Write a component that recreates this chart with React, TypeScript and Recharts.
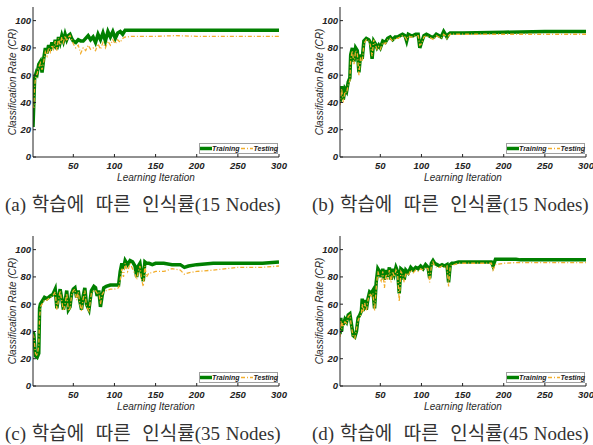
import { LineChart, Line, XAxis, YAxis, Legend } from "recharts";

const xTicks = [50, 100, 150, 200, 250, 300];
const yTicks = [0, 20, 40, 60, 80, 100];

// (a) 15 Nodes
const itersA = [1, 2, 3, 4, 5, 6, 8, 10, 12, 14, 16, 18, 20, 22, 24, 26, 28, 30, 32, 34, 36, 38, 40, 42, 44, 46, 48, 50, 53, 56, 59, 62, 65, 68, 71, 74, 77, 80, 83, 86, 89, 92, 95, 98, 101, 104, 107, 110, 113, 116, 120, 150, 175, 200, 250, 300];
const trainA = [22, 40, 58, 60, 62, 61, 68, 70, 62, 72, 80, 76, 82, 78, 84, 80, 86, 79, 88, 84, 89, 85, 90, 86, 89, 90, 87, 85, 84, 86, 85, 85, 87, 89, 86, 88, 84, 90, 86, 91, 85, 92, 88, 92, 87, 91, 92, 90, 93, 93, 93, 93, 93, 93, 93, 93];
const testA = [38, 36, 52, 58, 60, 61, 66, 69, 64, 70, 77, 74, 80, 77, 82, 79, 85, 78, 87, 82, 88, 84, 89, 85, 88, 89, 86, 83, 80, 82, 76, 80, 78, 82, 79, 80, 78, 83, 79, 84, 80, 85, 82, 86, 83, 86, 84, 87, 88, 88, 88.5, 88.5, 89, 88.5, 88.5, 88.5];

// (b) 15 Nodes
const itersB = [1, 3, 5, 7, 9, 11, 13, 14, 16, 18, 20, 22, 24, 26, 28, 30, 33, 36, 38, 40, 42, 44, 46, 48, 50, 53, 56, 59, 62, 65, 68, 71, 74, 77, 80, 82, 84, 87, 90, 93, 96, 98, 100, 103, 106, 109, 112, 115, 118, 121, 124, 127, 129, 131, 133, 135, 150, 200, 250, 300];
const trainB = [40, 52, 42, 50, 48, 55, 58, 75, 80, 70, 80, 78, 62, 75, 72, 85, 87, 86, 84, 72, 85, 83, 80, 82, 80, 85, 84, 87, 88, 86, 88, 88, 89, 90, 89, 85, 90, 89, 89, 90, 90, 80, 84, 89, 90, 89, 88, 88, 90, 89, 88, 92, 90, 88, 90, 91, 91, 91.5, 92, 92];
const testB = [38, 50, 40, 48, 47, 53, 56, 72, 78, 68, 78, 76, 60, 73, 70, 83, 86, 85, 82, 74, 86, 82, 79, 81, 79, 84, 83, 86, 87, 85, 87, 87, 88, 89, 88, 86, 89, 88, 88, 89, 89, 82, 83, 88, 89, 88, 87, 86, 89, 88, 87, 90, 89, 87, 89, 90, 90, 90, 90, 90];

// (c) 35 Nodes
const itersC = [1, 2, 4, 6, 8, 9, 10, 12, 15, 18, 22, 25, 28, 30, 32, 34, 36, 38, 40, 42, 44, 46, 48, 50, 52, 54, 56, 58, 60, 62, 64, 66, 69, 72, 75, 77, 79, 81, 83, 85, 87, 90, 95, 100, 105, 107, 109, 111, 113, 116, 119, 122, 125, 127, 129, 131, 133, 135, 137, 139, 142, 146, 150, 160, 170, 180, 185, 190, 200, 220, 250, 280, 300];
const trainC = [40, 38, 22, 21, 24, 57, 60, 62, 65, 64, 66, 67, 71, 57, 65, 71, 64, 56, 62, 70, 56, 58, 68, 71, 72, 65, 70, 62, 56, 66, 72, 60, 56, 70, 73, 72, 66, 70, 58, 66, 72, 73, 74, 74, 74, 84, 90, 86, 92, 89, 92, 91, 88, 80, 88, 90, 82, 77, 91, 90, 90, 89, 90, 90, 89, 89, 87, 88, 89, 90, 90, 90, 91];
const testC = [38, 36, 24, 22, 30, 50, 58, 60, 63, 63, 65, 66, 69, 56, 63, 70, 62, 55, 60, 68, 55, 57, 67, 70, 71, 63, 69, 60, 55, 64, 70, 58, 55, 68, 70, 70, 68, 69, 60, 67, 69, 70, 71, 71, 72, 78, 86, 80, 90, 84, 90, 86, 82, 78, 84, 88, 78, 73, 88, 80, 83, 83, 84, 84, 86, 85, 82, 83, 84, 85, 87, 87, 88];

// (d) 45 Nodes
const itersD = [1, 2, 3, 4, 5, 7, 9, 11, 13, 15, 17, 19, 21, 23, 25, 27, 28, 29, 31, 33, 35, 37, 39, 41, 43, 45, 47, 49, 51, 53, 55, 57, 59, 61, 63, 65, 67, 69, 71, 73, 75, 77, 79, 81, 84, 87, 90, 93, 96, 99, 102, 105, 108, 110, 112, 114, 116, 119, 122, 125, 128, 131, 133, 135, 137, 140, 145, 150, 160, 170, 180, 185, 187, 190, 200, 215, 220, 250, 300];
const trainD = [38, 50, 40, 48, 45, 49, 47, 52, 53, 45, 37, 36, 40, 50, 52, 55, 64, 55, 63, 56, 64, 69, 68, 70, 57, 76, 86, 84, 80, 86, 78, 85, 80, 87, 78, 86, 82, 87, 84, 68, 86, 85, 78, 85, 83, 87, 85, 87, 86, 88, 86, 89, 87, 79, 90, 92, 90, 89, 88, 89, 88, 89, 76, 89, 90, 90, 91, 91, 91, 91, 91, 91, 88, 93, 93, 93, 92.5, 92.5, 92.5];
const testD = [36, 48, 42, 46, 44, 47, 46, 51, 52, 43, 36, 35, 42, 48, 51, 53, 60, 54, 61, 55, 63, 68, 66, 68, 55, 72, 84, 80, 77, 84, 72, 82, 78, 85, 76, 84, 80, 85, 82, 62, 84, 82, 76, 83, 81, 85, 83, 85, 84, 86, 85, 87, 86, 76, 88, 91, 88, 87, 87, 88, 87, 88, 73, 88, 89, 89, 90, 90, 90, 90, 90, 90, 85, 89, 90, 90.5, 90.5, 90.5, 90.5];

const panels = [
  { iters: itersA, train: trainA, test: testA, caption: "(a) 학습에  따른  인식률(15 Nodes)", left: 0, top: 0 },
  { iters: itersB, train: trainB, test: testB, caption: "(b) 학습에  따른  인식률(15 Nodes)", left: 307, top: 0 },
  { iters: itersC, train: trainC, test: testC, caption: "(c) 학습에  따른  인식률(35 Nodes)", left: 0, top: 229 },
  { iters: itersD, train: trainD, test: testD, caption: "(d) 학습에  따른  인식률(45 Nodes)", left: 307, top: 229 },
];

const GREEN = "#008000";
const ORANGE = "#f2ae2e";
const SANS = "'Liberation Sans', Arial, sans-serif";
const seriesOrder = ["train", "test"];
const lineStyle: Record<string, { w: number; dash?: string }> = {
  train: { w: 3.5 },
  test: { w: 1.3, dash: "4 2 1 2" },
};

function LegendBox({ payload }: { payload?: any[] }) {
  const items = [...(payload || [])].sort(
    (a, b) => seriesOrder.indexOf(a.dataKey) - seriesOrder.indexOf(b.dataKey)
  );
  return (
    <div
      style={{
        display: "flex",
        alignItems: "center",
        width: 79,
        height: 11,
        boxSizing: "border-box",
        border: "1px solid #a0a0a0",
        background: "#fff",
        fontFamily: SANS,
        fontSize: 7,
        fontStyle: "italic",
        fontWeight: "bold",
        color: "#222",
        lineHeight: "9px",
      }}
    >
      {items.map((p) => {
        const s = lineStyle[p.dataKey] || { w: 1 };
        return (
          <span key={p.dataKey} style={{ display: "flex", alignItems: "center" }}>
            <svg width={12} height={7} style={{ display: "block" }}>
              <line x1={0} y1={3.5} x2={12} y2={3.5} stroke={p.color} strokeWidth={s.w} strokeDasharray={s.dash} />
            </svg>
            <span style={{ marginRight: 2 }}>{p.value}</span>
          </span>
        );
      })}
    </div>
  );
}

function Panel({ iters, train, test }: { iters: number[]; train: number[]; test: number[] }) {
  const data = iters.map((it, i) => ({ it, train: train[i], test: test[i] }));
  const tick = { fontFamily: SANS, fontSize: 9.5, fontStyle: "italic", fontWeight: "bold", fill: "#222" };
  const title = { fontFamily: SANS, fontSize: 10, fontStyle: "italic", fill: "#2a2a2a" };
  return (
    <LineChart width={290} height={190} data={data} margin={{ top: 7, right: 11, bottom: 3, left: 8 }}>
      <XAxis
        dataKey="it"
        type="number"
        domain={[1, 300]}
        ticks={xTicks}
        allowDataOverflow
        height={30}
        tickSize={-3}
        tickMargin={8}
        axisLine={{ stroke: "#222" }}
        tickLine={{ stroke: "#222" }}
        tick={tick}
        label={{ value: "Learning Iteration", position: "insideBottom", offset: 6, style: title }}
      />
      <XAxis
        xAxisId="top"
        orientation="top"
        type="number"
        domain={[1, 300]}
        ticks={xTicks}
        allowDataOverflow
        height={0}
        tickSize={-3}
        tick={false}
        axisLine={{ stroke: "#222" }}
        tickLine={{ stroke: "#222" }}
      />
      <YAxis
        type="number"
        domain={[0, 110]}
        ticks={yTicks}
        allowDataOverflow
        width={25}
        tickSize={-3}
        tickMargin={5}
        axisLine={{ stroke: "#222" }}
        tickLine={{ stroke: "#222" }}
        tick={tick}
        label={{
          value: "Classification Rate (CR)",
          angle: -90,
          position: "insideLeft",
          offset: 4,
          style: { ...title, textAnchor: "middle" },
        }}
      />
      <YAxis
        yAxisId="right"
        orientation="right"
        type="number"
        domain={[0, 110]}
        ticks={yTicks}
        allowDataOverflow
        width={0}
        tickSize={-3}
        tick={false}
        axisLine={{ stroke: "#222" }}
        tickLine={{ stroke: "#222" }}
      />
      <Legend
        layout="horizontal"
        verticalAlign="middle"
        align="center"
        itemSorter={null as any}
        wrapperStyle={{ left: 199, top: 143, width: 79, height: 11 }}
        content={(props: any) => <LegendBox payload={props.payload} />}
      />
      <Line
        dataKey="train"
        name="Training"
        type="linear"
        stroke={GREEN}
        strokeWidth={3.5}
        dot={false}
        isAnimationActive={false}
      />
      <Line
        dataKey="test"
        name="Testing"
        type="linear"
        stroke={ORANGE}
        strokeWidth={1.3}
        strokeDasharray="4 2 1 2"
        dot={false}
        isAnimationActive={false}
      />
    </LineChart>
  );
}

export default function App() {
  return (
    <div
      style={{
        position: "absolute",
        left: 0,
        top: 0,
        width: 593,
        height: 445,
        overflow: "hidden",
        background: "#fff",
      }}
    >
      {panels.map((p) => (
        <div key={p.caption}>
          <div style={{ position: "absolute", left: p.left, top: p.top }}>
            <Panel iters={p.iters} train={p.train} test={p.test} />
          </div>
          <div
            style={{
              position: "absolute",
              left: p.left + 5,
              top: p.top + 194,
              fontFamily: "'Liberation Serif', 'Noto Sans CJK KR', serif",
              fontSize: 19,
              wordSpacing: 1,
              lineHeight: "22px",
              color: "#333",
              whiteSpace: "pre",
            }}
          >
            {p.caption}
          </div>
        </div>
      ))}
    </div>
  );
}
